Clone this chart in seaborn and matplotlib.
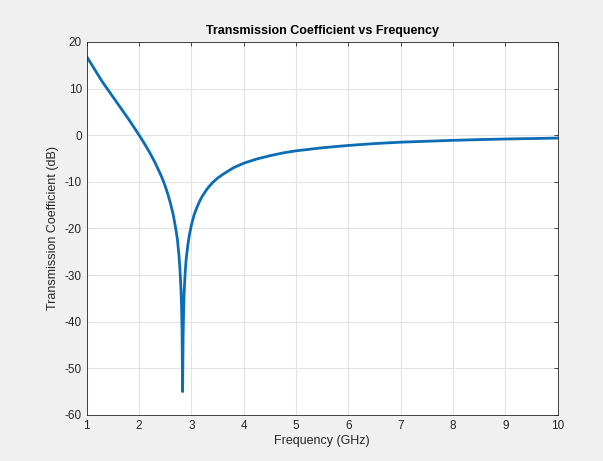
import pandas as pd
import matplotlib
matplotlib.use('Agg')
import matplotlib.pyplot as plt
import seaborn as sns

# valores
freq_ghz = [1.0, 1.1, 1.2, 1.3, 1.4, 1.5, 1.6, 1.7, 1.8, 1.9, 2.0, 2.1, 2.2, 2.3,
            2.4, 2.45, 2.5, 2.55, 2.6, 2.65, 2.7, 2.73, 2.76, 2.78, 2.8, 2.81,
            2.82, 2.83, 2.84, 2.85, 2.86, 2.88, 2.9, 2.93, 2.96, 3.0, 3.05, 3.1,
            3.15, 3.2, 3.3, 3.4, 3.5, 3.6, 3.8, 4.0, 4.25, 4.5, 4.75, 5.0, 5.5,
            6.0, 6.5, 7.0, 7.5, 8.0, 8.5, 9.0, 9.5, 10.0]
trans_db = [16.8, 15.0, 13.2, 11.4, 9.8, 8.2, 6.6, 5.0, 3.4, 1.7, 0.0, -1.8, -3.7, -5.8,
            -8.2, -9.5, -11.0, -12.7, -14.7, -17.0, -20.1, -22.3, -25.7, -28.8, -33.3, -36.5,
            -42.0, -55.0, -43.0, -37.5, -33.6, -29.3, -26.4, -23.6, -21.4, -19.2, -17.1, -15.6,
            -14.3, -13.2, -11.5, -10.2, -9.2, -8.4, -7.0, -6.0, -5.1, -4.4, -3.8, -3.35, -2.7,
            -2.2, -1.8, -1.5, -1.3, -1.1, -0.95, -0.82, -0.72, -0.62]

df = pd.DataFrame({'freq': freq_ghz, 'db': trans_db})

sns.set_style('whitegrid')
plt.rcParams['font.family'] = ['Liberation Sans', 'DejaVu Sans']
plt.rcParams['axes.unicode_minus'] = False

fig = plt.figure(figsize=(6.03, 4.61), dpi=100, facecolor='#f0f0f0')
ax = fig.add_axes([0.144, 0.100, 0.781, 0.809])
ax.set_facecolor('white')

sns.lineplot(data=df, x='freq', y='db', ax=ax, color='#0a6db5', linewidth=2.0)

ax.set_xlim(1, 10)
ax.set_ylim(-60, 20)
ax.set_xticks(range(1, 11))
ax.set_yticks(range(-60, 21, 10))
ax.grid(True, color='#e3e3e3', linewidth=0.8)
for s in ax.spines.values():
    s.set_visible(True)
    s.set_color('#262626')
    s.set_linewidth(0.6)
ax.tick_params(direction='in', length=3, width=0.6, colors='#262626',
               top=True, right=True, labelsize=8.5)
ax.set_xlabel('Frequency (GHz)', fontsize=9, color='#262626', labelpad=2)
ax.set_ylabel('Transmission Coefficient (dB)', fontsize=9, color='#262626', labelpad=4)
ax.set_title('Transmission Coefficient vs Frequency', fontsize=9,
             fontweight='bold', color='#000000', pad=6)

fig.savefig('out.png', dpi=100, facecolor=fig.get_facecolor())
